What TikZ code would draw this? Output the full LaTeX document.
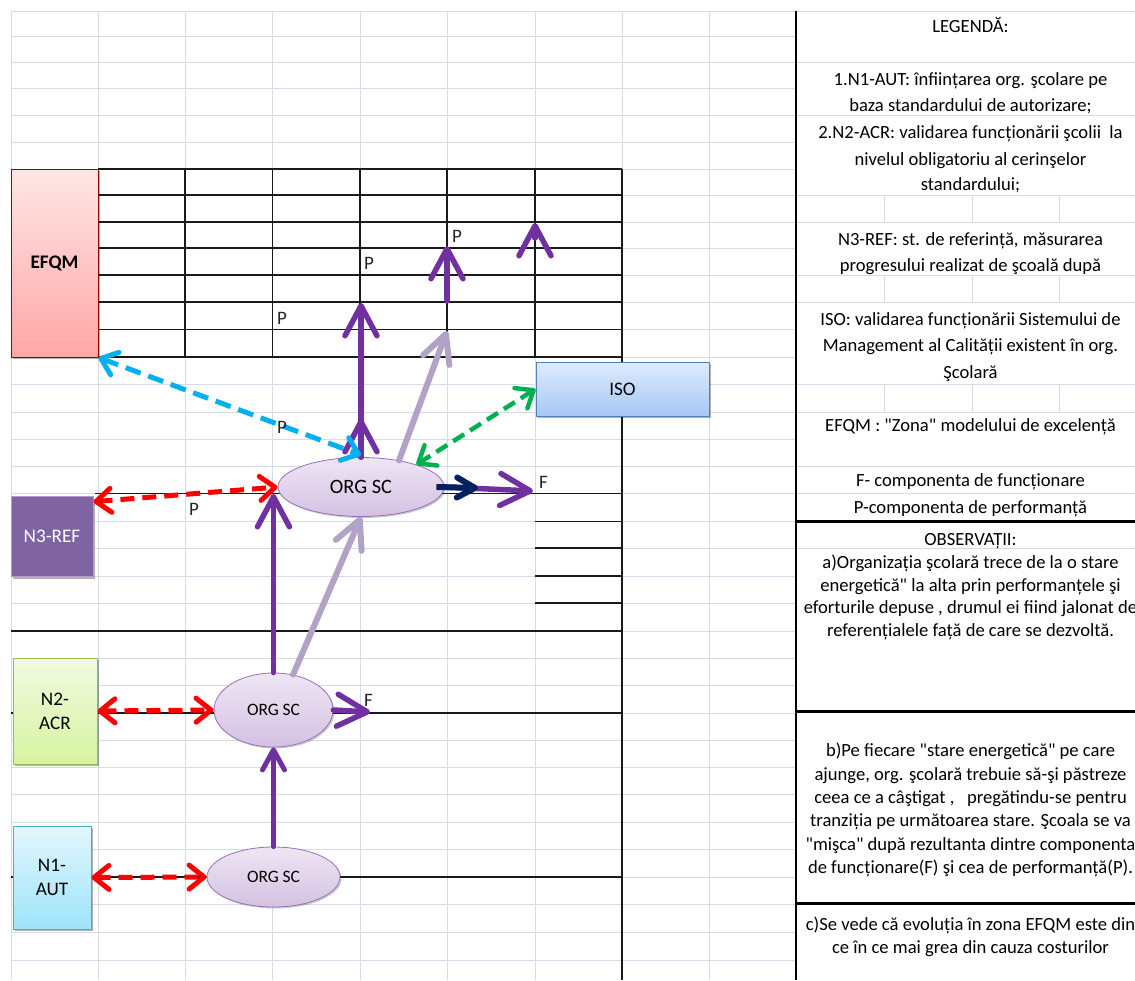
\documentclass[tikz,border=0pt]{standalone}
\usepackage{fontspec}
\setmainfont{Carlito}[Ligatures=TeXOff]
\usetikzlibrary{arrows.meta,shapes.geometric,shadows}
\definecolor{gridc}{HTML}{D4DCE8}
\definecolor{purp}{HTML}{7030A0}
\definecolor{lav}{HTML}{B3A2C7}
\definecolor{navy}{HTML}{002060}
\definecolor{cyanc}{HTML}{00B0F0}
\definecolor{greenc}{HTML}{00B050}
\definecolor{redc}{HTML}{FF0000}
\definecolor{tblk}{HTML}{1A1A1A}
\begin{document}
\begin{tikzpicture}[x=1pt,y=-1pt,
  lgrid/.style={draw=gridc,line width=1pt},
  bline/.style={draw=tblk,line width=1.3pt},
  thick line/.style={draw=black,line width=2.6pt},
  legtxt/.style={anchor=base,inner sep=0pt,font=\fontsize{18.6pt}{22pt}\selectfont},
  lbl/.style={anchor=base west,inner sep=0pt,font=\fontsize{19pt}{22pt}\selectfont,text=black!85},
  shade box/.style={draw,line width=1pt,inner sep=0pt,align=center,
     font=\fontsize{19.2pt}{24pt}\selectfont,
     drop shadow={shadow xshift=2pt,shadow yshift=-2pt,opacity=0.3,fill=black}},
  orgsc/.style={ellipse,draw=purp!70,line width=0.8pt,inner sep=0pt,
     top color=purp!12,bottom color=purp!30,
     drop shadow={shadow xshift=1.5pt,shadow yshift=-1.5pt,opacity=0.2,fill=black}},
  parrow/.style={draw=purp,line width=5.5pt,line cap=round,-{Straight Barb[round,length=30pt,width=32pt]}},
  parrowsmall/.style={draw=purp,line width=5pt,line cap=round,-{Straight Barb[round,length=20pt,width=22pt]}},
  larrow/.style={draw=lav,line width=6pt,line cap=round,-{Straight Barb[round,length=28pt,width=28pt]}},
  narrow/.style={draw=navy,line width=6pt,-{Straight Barb[round,length=18pt,width=20pt]}},
  reddash/.style={draw=redc,line width=5pt,dash pattern=on 14pt off 8pt,
     {Straight Barb[round,length=15pt,width=24pt]}-{Straight Barb[round,length=15pt,width=24pt]}},
  cyandash/.style={draw=cyanc,line width=5pt,dash pattern=on 16pt off 8pt,
     {Straight Barb[round,length=15pt,width=24pt]}-{Straight Barb[round,length=15pt,width=24pt]}},
  greendash/.style={draw=greenc,line width=4.5pt,dash pattern=on 13pt off 7pt,
     {Straight Barb[round,length=15pt,width=24pt]}-{Straight Barb[round,length=15pt,width=24pt]}}
]
\useasboundingbox (0,0) rectangle (1135,980);
\clip (0,0) rectangle (1135,980);
\fill[white] (0,0) rectangle (1135,980);

% ---------- light spreadsheet grid ----------
\foreach \y in {11,36,62,88,115.5,142,169,195,222,248,275,302,329.5,357,384,412,439,466.5,493.5,521.5,548,576,603,631,658,685,713,740,767,794,822,849,877,904,932,960}
  \draw[lgrid] (11,\y) -- (796,\y);
\foreach \x in {11,98,185,272.5,360,447,535,622,709.5}
  \draw[lgrid] (\x,11) -- (\x,980);
\foreach \y in {11,62,115.5,195,222,275,302,384,412,466.5,493.5,548}
  \draw[lgrid] (796,\y) -- (1135,\y);
\foreach \x in {884,972,1059}{
  \draw[lgrid] (\x,195) -- (\x,222);
  \draw[lgrid] (\x,275) -- (\x,302);
  \draw[lgrid] (\x,384) -- (\x,412);
}

% ---------- black table lines ----------
\foreach \y in {169,195,222,248,275,302,329.5,357}
  \draw[bline] (98,\y) -- (622,\y);
\foreach \x in {98,185,272.5,360,447,535}
  \draw[bline] (\x,169) -- (\x,357);
\draw[draw=tblk,line width=2pt] (622,169) -- (622,980);
\draw[bline] (95,493.5) -- (280,493.5);
\draw[bline] (440,493.5) -- (622,493.5);
\foreach \y in {521.5,548,576,603}
  \draw[bline] (535,\y) -- (622,\y);
\draw[bline] (11,631) -- (622,631);
\draw[bline] (11,713) -- (622,713);
\draw[bline] (11,877) -- (622,877);
% legend frame
\draw[thick line] (796,11) -- (796,980);
\draw[thick line] (796,521.5) -- (1135,521.5);
\draw[thick line] (796,711.5) -- (1135,711.5);
\draw[thick line] (796,903.5) -- (1135,903.5);

% ---------- boxes ----------
\node[shade box,draw=red!60!black,top color=red!10,bottom color=red!35,
  minimum width=87pt,minimum height=188pt] (efqm) at (54.5,263) {\bfseries EFQM};
\node[shade box,draw=purp!50!white,fill={rgb,255:red,128;green,100;blue,162},text=white,
  minimum width=82pt,minimum height=80pt] (n3) at (52,536.7) {N3-REF};
\node[shade box,draw={rgb,255:red,155;green,187;blue,89},
  top color={rgb,255:red,242;green,250;blue,224},bottom color={rgb,255:red,214;green,244;blue,158},
  minimum width=84pt,minimum height=106pt] (n2) at (55,711) {N2-\\ACR};
\node[shade box,draw={rgb,255:red,75;green,172;blue,198},
  top color={rgb,255:red,226;green,247;blue,252},bottom color={rgb,255:red,158;green,228;blue,250},
  minimum width=78pt,minimum height=103pt] (n1) at (52,877.5) {N1-\\AUT};
\node[shade box,draw={rgb,255:red,79;green,129;blue,189},
  top color={rgb,255:red,222;green,235;blue,253},bottom color={rgb,255:red,166;green,200;blue,245},
  minimum width=173pt,minimum height=54pt] (iso) at (622.5,389) {ISO};

% ---------- ellipses ----------
\node[orgsc,minimum width=166pt,minimum height=59pt,font=\fontsize{20.4pt}{22pt}\selectfont] (orgT) at (361,487) {ORG SC};
\node[orgsc,minimum width=119pt,minimum height=74pt,font=\fontsize{17.4pt}{19pt}\selectfont] (orgM) at (273.5,710) {ORG SC};
\node[orgsc,minimum width=133pt,minimum height=60pt,font=\fontsize{17.4pt}{19pt}\selectfont] (orgB) at (273.5,877) {ORG SC};

% ---------- free arrow ends ----------
\coordinate (tipM) at (273.5,494);
\coordinate (tipA) at (361,419);
\coordinate (tipB) at (361,303);
\coordinate (baseC) at (447,301);
\coordinate (tipC) at (447,246);
\coordinate (baseD) at (535,238);
\coordinate (tipD) at (535,223);
\coordinate (tipL) at (447,331);
\coordinate (tipF1) at (533,491);
\coordinate (tipN) at (478,488);
\coordinate (tipF2) at (370,712);

% ---------- arrows ----------
\draw[parrowsmall] (orgB.north) -- (orgM.south);
\draw[parrow] (orgM.north) -- (tipM);
\draw[larrow] (orgM.61) -- (orgT.south);
\draw[larrow] (orgT.35) -- (tipL);
\draw[parrow] (orgT.north) -- (tipB);
\draw[parrow] (orgT.north) -- (tipA);
\draw[parrow] (baseC) -- (tipC);
\draw[parrow] (baseD) -- (tipD);
\draw[parrow] (orgT.east) -- (tipF1);
\draw[narrow] ([xshift=-8pt]orgT.east) -- (tipN);
\draw[parrow] (orgM.east) -- (tipF2);

\draw[reddash] ([yshift=35pt]n3.east) -- (orgT.west);
\draw[reddash] (n2.east) -- (orgM.west);
\draw[reddash] (n1.east) -- (orgB.west);
\draw[cyandash] (efqm.south east) -- ([yshift=2pt]orgT.north);
\draw[greendash] (iso.west) -- (orgT.22);

% ---------- P / F labels ----------
\node[lbl] (p1) at (452,242) {P};
\node[lbl] (p2) at (364,269) {P};
\node[lbl] (p3) at (277,324) {P};
\node[lbl] (p4) at (277,433) {P};
\node[lbl] (p5) at (189,515) {P};
\node[lbl] (f1) at (539,488) {F};
\node[lbl] (f2) at (364,706) {F};

% ---------- legend ----------
\node[legtxt] (l1) at (970.5,32.7) {LEGENDĂ:};
\node[legtxt] (l2) at (970.5,85) {1.N1-AUT: înființarea org. şcolare pe};
\node[legtxt] (l3) at (970.5,111.7) {baza standardului de autorizare;};
\node[legtxt] (l4) at (970.5,138.3) {2.N2-ACR: validarea funcționării şcolii\ \ la};
\node[legtxt] (l5) at (970.5,165) {nivelul obligatoriu al cerinşelor};
\node[legtxt] (l6) at (970.5,190) {standardului;};
\node[legtxt] (l7) at (970.5,245) {N3-REF: st. de referință, măsurarea};
\node[legtxt] (l8) at (970.5,271.7) {progresului realizat de şcoală după};
\node[legtxt] (l9) at (970.5,325) {ISO: validarea funcționării Sistemului de};
\node[legtxt] (l10) at (970.5,351.7) {Management al Calității existent în org.};
\node[legtxt] (l11) at (970.5,378.3) {Şcolară};
\node[legtxt] (l12) at (970.5,431.7) {EFQM : "Zona" modelului de excelență};
\node[legtxt] (l13) at (970.5,486.7) {F- componenta de funcționare};
\node[legtxt] (l14) at (970.5,513.3) {P-componenta de performanță};
\node[legtxt] (o1) at (970.5,545) {OBSERVAȚII:};
\node[legtxt] (o2) at (970.5,568.3) {a)Organizația şcolară trece de la o stare};
\node[legtxt] (o3) at (970.5,591.7) {energetică" la alta prin performanțele şi};
\node[legtxt] (o4) at (970.5,613.3) {eforturile depuse , drumul ei fiind jalonat de};
\node[legtxt] (o5) at (970.5,636.7) {referențialele față de care se dezvoltă.};
\node[legtxt] (b1) at (970.5,756.7) {b)Pe fiecare "stare energetică" pe care};
\node[legtxt] (b2) at (970.5,780) {ajunge, org. şcolară trebuie să-şi păstreze};
\node[legtxt] (b3) at (970.5,803.3) {ceea ce a câştigat ,\ \ \ pregătindu-se pentru};
\node[legtxt] (b4) at (970.5,826.7) {tranziția pe următoarea stare. Şcoala se va};
\node[legtxt] (b5) at (970.5,850) {"mişca" după rezultanta dintre componenta};
\node[legtxt] (b6) at (970.5,873.3) {de funcționare(F) şi cea de performanță(P).};
\node[legtxt] (c1) at (970.5,930) {c)Se vede că evoluția în zona EFQM este din};
\node[legtxt] (c2) at (970.5,953.3) {ce în ce mai grea din cauza costurilor};
\end{tikzpicture}
\end{document}
